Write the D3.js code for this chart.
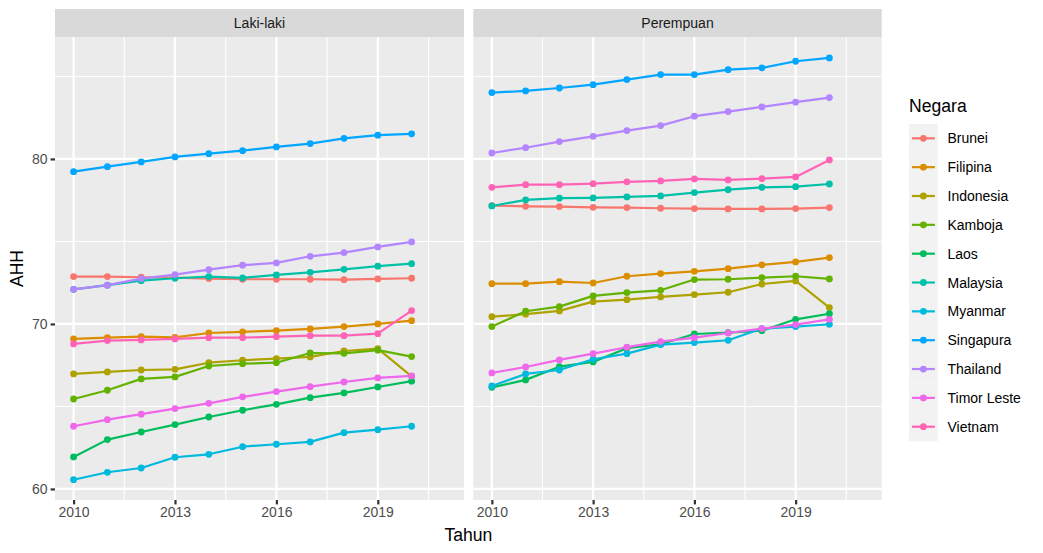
<!DOCTYPE html>
<html><head><meta charset="utf-8">
<script src="https://cdn.jsdelivr.net/npm/d3@7"></script>
<style>body{margin:0;background:#fff} text{font-family:"Liberation Sans",Arial,Helvetica,sans-serif}</style>
</head><body><svg id="c" width="1043" height="553"></svg>
<script>
const years = [2010,2011,2012,2013,2014,2015,2016,2017,2018,2019,2020];
const countries = ["Brunei","Filipina","Indonesia","Kamboja","Laos","Malaysia","Myanmar","Singapura","Thailand","Timor Leste","Vietnam"];
const colors = ["#F8766D","#DB8E00","#AEA200","#64B200","#00BD5C","#00C1A7","#00BADE","#00A6FF","#B385FF","#EF67EB","#FF63B6"];
const panelLabels = ["Laki-laki","Perempuan"];
const xTicks = [2010,2013,2016,2019];
const yTicks = [60,70,80];

// Laki-laki
const mBrunei    = [72.87,72.87,72.83,72.81,72.75,72.71,72.71,72.71,72.68,72.73,72.77];
const mFilipina  = [69.09,69.17,69.23,69.19,69.45,69.52,69.59,69.70,69.84,70.00,70.20];
const mIndonesia = [66.97,67.09,67.21,67.25,67.65,67.80,67.90,68.00,68.36,68.50,66.82];
const mKamboja   = [65.45,65.98,66.67,66.79,67.45,67.59,67.65,68.24,68.22,68.41,68.02];
const mLaos      = [61.94,62.99,63.45,63.90,64.36,64.77,65.13,65.53,65.82,66.18,66.53];
const mMalaysia  = [72.10,72.35,72.62,72.77,72.87,72.79,72.97,73.13,73.31,73.50,73.65];
const mMyanmar   = [60.56,61.01,61.27,61.92,62.10,62.56,62.71,62.85,63.41,63.59,63.80];
const mSingapura = [79.23,79.53,79.82,80.12,80.32,80.50,80.73,80.93,81.25,81.44,81.52];
const mThailand  = [72.10,72.35,72.75,72.99,73.29,73.56,73.70,74.10,74.32,74.67,74.97];
const mTimor     = [63.80,64.20,64.53,64.87,65.19,65.58,65.90,66.20,66.48,66.73,66.85];
const mVietnam   = [68.79,68.99,69.03,69.09,69.17,69.17,69.23,69.29,69.29,69.41,70.81];
// Perempuan
const fBrunei    = [77.17,77.13,77.11,77.07,77.05,77.01,76.99,76.97,76.97,76.99,77.05];
const fFilipina  = [72.44,72.44,72.56,72.48,72.89,73.05,73.19,73.35,73.58,73.76,74.02];
const fIndonesia = [70.44,70.59,70.79,71.35,71.47,71.64,71.78,71.92,72.42,72.61,70.99];
const fKamboja   = [69.84,70.77,71.05,71.70,71.90,72.04,72.69,72.71,72.81,72.89,72.73];
const fLaos      = [66.16,66.61,67.41,67.70,68.53,68.77,69.39,69.47,69.59,70.28,70.62];
const fMalaysia  = [77.15,77.52,77.62,77.64,77.70,77.76,77.96,78.14,78.28,78.32,78.48];
const fMyanmar   = [66.24,66.97,67.21,67.86,68.20,68.75,68.87,69.01,69.72,69.84,69.98];
const fSingapura = [84.02,84.12,84.30,84.50,84.81,85.11,85.11,85.41,85.52,85.92,86.12];
const fThailand  = [80.36,80.68,81.05,81.37,81.72,82.02,82.59,82.87,83.15,83.44,83.72];
const fTimor     = [67.03,67.39,67.82,68.20,68.59,68.93,69.17,69.45,69.72,69.96,70.28];
const fVietnam   = [78.28,78.44,78.44,78.50,78.61,78.67,78.79,78.73,78.81,78.91,79.94];

const seriesBy = [
  [mBrunei,mFilipina,mIndonesia,mKamboja,mLaos,mMalaysia,mMyanmar,mSingapura,mThailand,mTimor,mVietnam],
  [fBrunei,fFilipina,fIndonesia,fKamboja,fLaos,fMalaysia,fMyanmar,fSingapura,fThailand,fTimor,fVietnam]
];

const svg = d3.select("#c");
const color = d3.scaleOrdinal().domain(countries).range(colors);
const panelX = [[55,464],[473.3,881.7]];
const pTop = 37, pBottom = 500, stripTop = 9;
const y = d3.scaleLinear().domain([59.33,87.39]).range([pBottom,pTop]);
const yMinor = [65,75,85];
const xMinor = [2011.5,2014.5,2017.5,2020.5];

panelLabels.forEach((lab,pi)=>{
  const [x0,x1] = panelX[pi];
  const x = d3.scaleLinear().domain([2009.45,2021.55]).range([x0,x1]);
  const g = svg.append("g");
  g.append("rect").attr("x",x0).attr("y",pTop).attr("width",x1-x0).attr("height",pBottom-pTop).attr("fill","#EBEBEB");
  const clipId = "clip"+pi;
  svg.append("clipPath").attr("id",clipId).append("rect").attr("x",x0).attr("y",pTop).attr("width",x1-x0).attr("height",pBottom-pTop);
  g.selectAll(".ym").data(yMinor).join("line").attr("x1",x0).attr("x2",x1).attr("y1",d=>y(d)).attr("y2",d=>y(d)).attr("stroke","#fff").attr("stroke-width",1.1);
  g.selectAll(".xm").data(xMinor).join("line").attr("y1",pTop).attr("y2",pBottom).attr("x1",d=>x(d)).attr("x2",d=>x(d)).attr("stroke","#fff").attr("stroke-width",1.1);
  g.selectAll(".yM").data(yTicks).join("line").attr("x1",x0).attr("x2",x1).attr("y1",d=>y(d)).attr("y2",d=>y(d)).attr("stroke","#fff").attr("stroke-width",2.2);
  g.selectAll(".xM").data(xTicks).join("line").attr("y1",pTop).attr("y2",pBottom).attr("x1",d=>x(d)).attr("x2",d=>x(d)).attr("stroke","#fff").attr("stroke-width",2.2);
  g.append("rect").attr("x",x0).attr("y",stripTop).attr("width",x1-x0).attr("height",pTop-stripTop).attr("fill","#D9D9D9");
  g.append("text").attr("x",(x0+x1)/2).attr("y",(stripTop+pTop)/2+5).attr("text-anchor","middle").attr("font-size",14).attr("fill","#1A1A1A").text(lab);
  const dg = g.append("g").attr("clip-path",`url(#${clipId})`);
  const line = d3.line().x((d,i)=>x(years[i])).y(d=>y(d));
  const ser = seriesBy[pi];
  dg.selectAll("path.s").data(ser).join("path").attr("d",line).attr("fill","none")
    .attr("stroke",(d,i)=>color(countries[i])).attr("stroke-width",2.2).attr("stroke-linejoin","round");
  ser.forEach((vals,ci)=>{
    dg.append("g").selectAll("circle").data(vals).join("circle").attr("cx",(d,i)=>x(years[i])).attr("cy",d=>y(d)).attr("r",3.4).attr("fill",color(countries[ci]));
  });
  const xa = svg.append("g").attr("transform",`translate(0,${pBottom})`).call(d3.axisBottom(x).tickValues(xTicks).tickFormat(d3.format("d")).tickSize(4.4).tickPadding(3));
  xa.select(".domain").remove();
  xa.selectAll("line").attr("stroke","#333").attr("stroke-width",2.2);
  xa.selectAll("text").attr("font-size",14).attr("fill","#4D4D4D").attr("font-family","Liberation Sans, Arial, sans-serif");
  if(pi===0){
    const ya = svg.append("g").attr("transform",`translate(${x0},0)`).call(d3.axisLeft(y).tickValues(yTicks).tickSize(4.4).tickPadding(3));
    ya.select(".domain").remove();
    ya.selectAll("line").attr("stroke","#333").attr("stroke-width",2.2);
    ya.selectAll("text").attr("font-size",14).attr("fill","#4D4D4D").attr("font-family","Liberation Sans, Arial, sans-serif");
  }
});

svg.append("text").attr("x",(55+881.7)/2).attr("y",541).attr("text-anchor","middle").attr("font-size",17.6).attr("fill","#000").text("Tahun");
svg.append("text").attr("transform",`translate(23,${(pTop+pBottom)/2}) rotate(-90)`).attr("text-anchor","middle").attr("font-size",17.6).attr("fill","#000").text("AHH");

const lg = svg.append("g");
lg.append("text").attr("x",909).attr("y",112).attr("font-size",17.6).attr("fill","#000").text("Negara");
const keyTop = 123.9, keyH = 28.84;
countries.forEach((c,i)=>{
  const ky = keyTop + i*keyH;
  lg.append("rect").attr("x",909).attr("y",ky).attr("width",28.8).attr("height",keyH).attr("fill","#F2F2F2");
  lg.append("line").attr("x1",911.9).attr("x2",934.9).attr("y1",ky+keyH/2).attr("y2",ky+keyH/2).attr("stroke",color(c)).attr("stroke-width",2.2);
  lg.append("circle").attr("cx",923.4).attr("cy",ky+keyH/2).attr("r",3.4).attr("fill",color(c));
  lg.append("text").attr("x",947.5).attr("y",ky+keyH/2+5).attr("font-size",14).attr("fill","#000").text(c);
});
</script></body></html>
